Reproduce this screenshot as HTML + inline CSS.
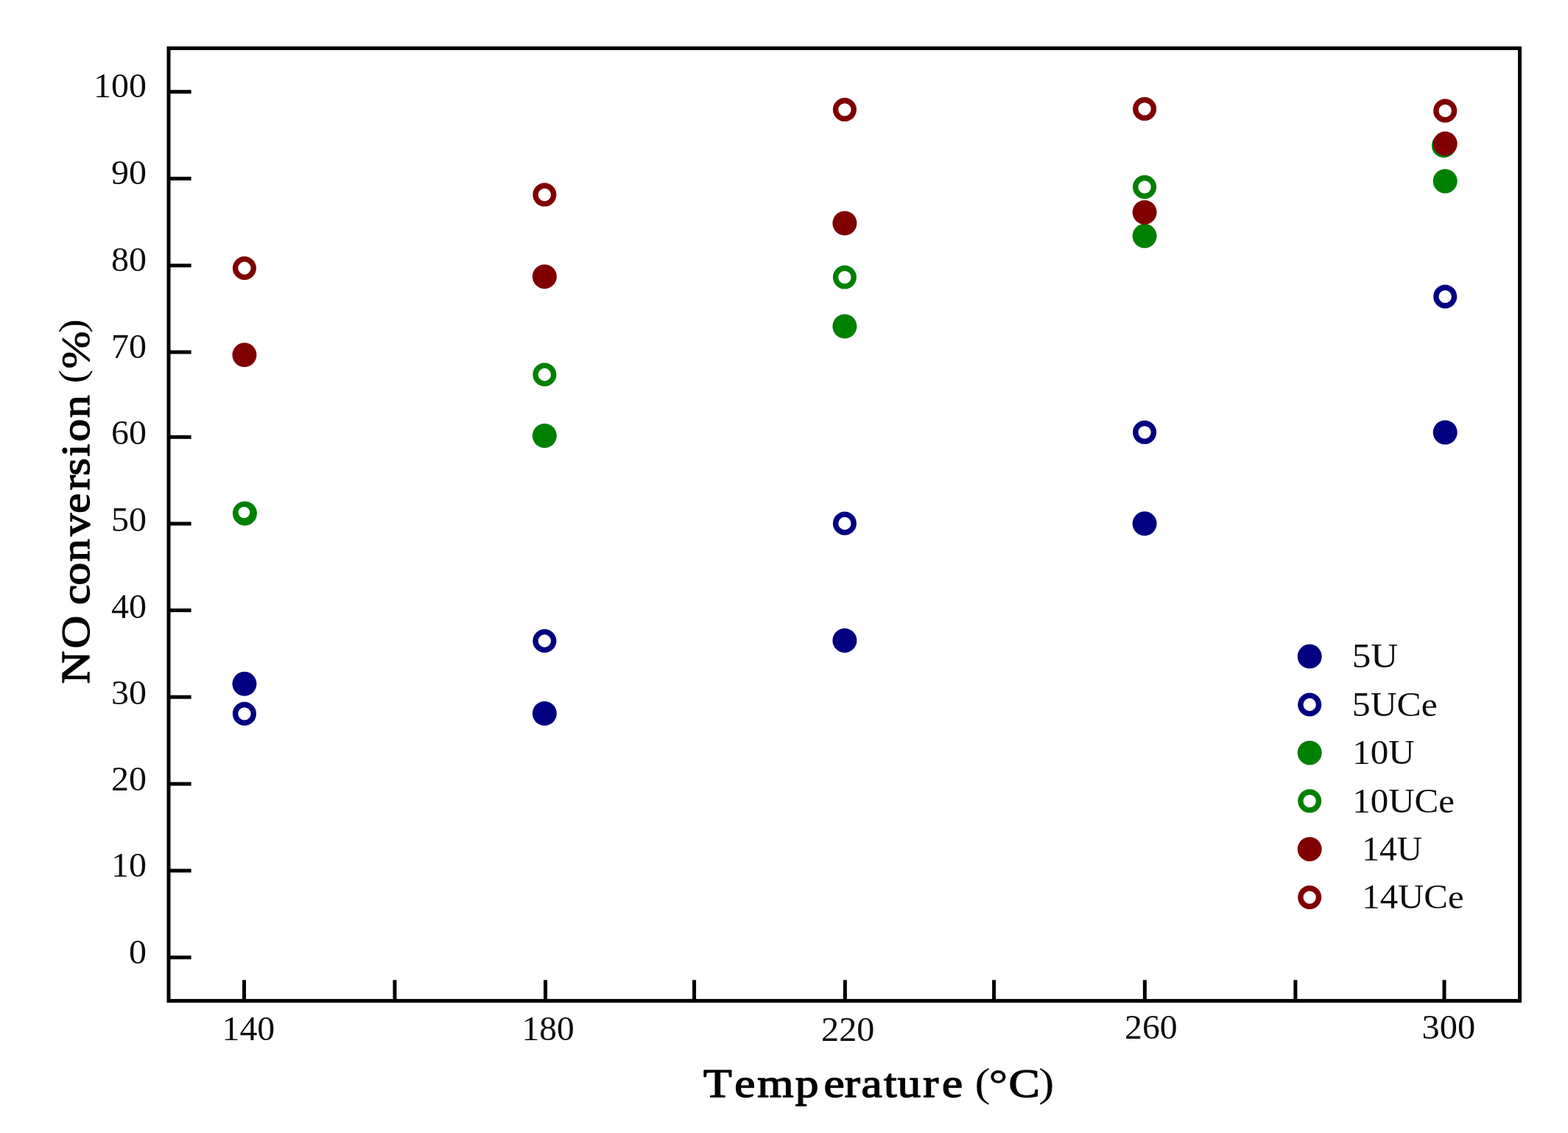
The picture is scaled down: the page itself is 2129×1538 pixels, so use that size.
<!DOCTYPE html>
<html lang="en"><head><meta charset="utf-8"><title>NO conversion vs Temperature</title>
<style>
html,body{margin:0;padding:0;background:#fff;}
body{width:2129px;height:1538px;overflow:hidden;}
svg{display:block;}
text{font-family:"Liberation Serif","DejaVu Serif",serif;}
.tk{font-size:46.0px;fill:#0d0d0d;stroke:none;}
.ti{font-size:55.2px;font-weight:normal;fill:#000;stroke:#000;stroke-width:1.4px;stroke-linejoin:round;}
.pa{font-size:55.0px;font-weight:normal;fill:#000;stroke:none;}
.pb{font-size:55.2px;font-weight:normal;fill:#000;stroke:#000;stroke-width:0.8px;}
.py{font-size:50.0px;font-weight:normal;fill:#000;stroke:none;}
.ax{stroke:#000;stroke-width:5;fill:none;}
</style></head><body>
<svg width="2129" height="1538" viewBox="0 0 2129 1538">
<rect x="0" y="0" width="2129" height="1538" fill="#fff"/>
<rect class="ax" x="229.0" y="65.5" width="1834.5" height="1293.1"/>
<g class="ax">
<line x1="229.0" y1="124.6" x2="259.6" y2="124.6"/>
<line x1="229.0" y1="242.4" x2="259.6" y2="242.4"/>
<line x1="229.0" y1="360.4" x2="259.6" y2="360.4"/>
<line x1="229.0" y1="478.0" x2="259.6" y2="478.0"/>
<line x1="229.0" y1="593.3" x2="259.6" y2="593.3"/>
<line x1="229.0" y1="710.9" x2="259.6" y2="710.9"/>
<line x1="229.0" y1="828.5" x2="259.6" y2="828.5"/>
<line x1="229.0" y1="946.2" x2="259.6" y2="946.2"/>
<line x1="229.0" y1="1064.1" x2="259.6" y2="1064.1"/>
<line x1="229.0" y1="1181.9" x2="259.6" y2="1181.9"/>
<line x1="229.0" y1="1299.7" x2="259.6" y2="1299.7"/>
<line x1="331.5" y1="1330.3" x2="331.5" y2="1358.6"/>
<line x1="536.0" y1="1330.3" x2="536.0" y2="1358.6"/>
<line x1="740.6" y1="1330.3" x2="740.6" y2="1358.6"/>
<line x1="942.6" y1="1330.3" x2="942.6" y2="1358.6"/>
<line x1="1147.4" y1="1330.3" x2="1147.4" y2="1358.6"/>
<line x1="1349.6" y1="1330.3" x2="1349.6" y2="1358.6"/>
<line x1="1554.4" y1="1330.3" x2="1554.4" y2="1358.6"/>
<line x1="1758.9" y1="1330.3" x2="1758.9" y2="1358.6"/>
<line x1="1961.0" y1="1330.3" x2="1961.0" y2="1358.6"/>
</g>
<g class="tk">
<text x="127.13" y="132.3" textLength="71.97" lengthAdjust="spacingAndGlyphs">100</text>
<text x="151.12" y="250.3" textLength="47.98" lengthAdjust="spacingAndGlyphs">90</text>
<text x="151.12" y="368.2" textLength="47.98" lengthAdjust="spacingAndGlyphs">80</text>
<text x="151.12" y="485.8" textLength="47.98" lengthAdjust="spacingAndGlyphs">70</text>
<text x="151.12" y="603.3" textLength="47.98" lengthAdjust="spacingAndGlyphs">60</text>
<text x="151.12" y="721.2" textLength="47.98" lengthAdjust="spacingAndGlyphs">50</text>
<text x="151.12" y="839.0" textLength="47.98" lengthAdjust="spacingAndGlyphs">40</text>
<text x="151.12" y="956.2" textLength="47.98" lengthAdjust="spacingAndGlyphs">30</text>
<text x="151.12" y="1073.2" textLength="47.98" lengthAdjust="spacingAndGlyphs">20</text>
<text x="151.12" y="1190.0" textLength="47.98" lengthAdjust="spacingAndGlyphs">10</text>
<text x="175.11" y="1307.5" textLength="23.99" lengthAdjust="spacingAndGlyphs">0</text>
<text x="301.57" y="1412.4" textLength="71.62" lengthAdjust="spacingAndGlyphs">140</text>
<text x="708.59" y="1412.4" textLength="71.19" lengthAdjust="spacingAndGlyphs">180</text>
<text x="1115.09" y="1412.7" textLength="72.31" lengthAdjust="spacingAndGlyphs">220</text>
<text x="1527.00" y="1410.3" textLength="71.79" lengthAdjust="spacingAndGlyphs">260</text>
<text x="1930.53" y="1410.3" textLength="72.58" lengthAdjust="spacingAndGlyphs">300</text>
</g>
<text class="ti" transform="scale(1.1509,1)"><tspan x="829.77 866.58 893.37 938.14 971.89 996.33 1016.17 1042.76 1058.66 1089.04 1111.22 1126.22" y="1488.7">Temperature </tspan><tspan class="pa" x="1150.08" y="1488.2">(</tspan><tspan class="pb" x="1166.61" y="1489.7">°</tspan><tspan x="1189.99" y="1488.7">C</tspan><tspan class="pa" x="1225.32" y="1488.2">)</tspan></text>
<text class="ti" transform="translate(120.7,928.2) rotate(-90) scale(1.1185,1)"><tspan x="-0.04 42.92 69.43 95.94 119.50 148.12 179.31 206.66 234.94 252.64 275.69 293.88 322.72 337.72" y="0.0">NO conversion </tspan><tspan class="py" x="364.57" y="-5.5">(</tspan><tspan class="pb" x="382.15" y="0.0">%</tspan><tspan class="py" x="425.71" y="-5.5">)</tspan></text>
<g>
<circle cx="331.9" cy="928.3" r="16.50" fill="#000080"/>
<circle cx="739.4" cy="968.5" r="16.50" fill="#000080"/>
<circle cx="1146.9" cy="869.4" r="16.50" fill="#000080"/>
<circle cx="1554.1" cy="710.8" r="16.50" fill="#000080"/>
<circle cx="1962.2" cy="587.0" r="16.50" fill="#000080"/>
<circle cx="331.9" cy="968.9" r="12.35" fill="#fff" stroke="#000080" stroke-width="7.4"/>
<circle cx="739.4" cy="870.0" r="12.35" fill="#fff" stroke="#000080" stroke-width="7.4"/>
<circle cx="1146.9" cy="710.5" r="12.35" fill="#fff" stroke="#000080" stroke-width="7.4"/>
<circle cx="1554.1" cy="586.8" r="12.35" fill="#fff" stroke="#000080" stroke-width="7.4"/>
<circle cx="1962.2" cy="402.6" r="12.35" fill="#fff" stroke="#000080" stroke-width="7.4"/>
<circle cx="739.4" cy="591.5" r="16.50" fill="#008000"/>
<circle cx="1146.9" cy="443.0" r="16.50" fill="#008000"/>
<circle cx="1554.1" cy="320.3" r="16.50" fill="#008000"/>
<circle cx="1962.2" cy="245.9" r="16.50" fill="#008000"/>
<circle cx="332.4" cy="696.9" r="16.50" fill="#008000"/>
<ellipse cx="331.4" cy="695.6" rx="7.9" ry="7.6" fill="#fff"/>
<circle cx="739.4" cy="508.5" r="12.35" fill="#fff" stroke="#008000" stroke-width="7.4"/>
<circle cx="1146.9" cy="376.3" r="12.35" fill="#fff" stroke="#008000" stroke-width="7.4"/>
<circle cx="1554.1" cy="253.9" r="12.35" fill="#fff" stroke="#008000" stroke-width="7.4"/>
<circle cx="1960.4" cy="197.6" r="16.50" fill="#008000"/>
<circle cx="331.9" cy="481.8" r="16.50" fill="#800000"/>
<circle cx="739.4" cy="375.4" r="16.50" fill="#800000"/>
<circle cx="1146.9" cy="303.0" r="16.50" fill="#800000"/>
<circle cx="1554.1" cy="288.2" r="16.50" fill="#800000"/>
<circle cx="1962.2" cy="195.1" r="16.50" fill="#800000"/>
<circle cx="331.9" cy="364.0" r="12.35" fill="#fff" stroke="#800000" stroke-width="7.4"/>
<circle cx="739.4" cy="264.3" r="12.35" fill="#fff" stroke="#800000" stroke-width="7.4"/>
<circle cx="1146.9" cy="148.8" r="12.35" fill="#fff" stroke="#800000" stroke-width="7.4"/>
<circle cx="1554.1" cy="147.8" r="12.35" fill="#fff" stroke="#800000" stroke-width="7.4"/>
<circle cx="1962.2" cy="150.4" r="12.35" fill="#fff" stroke="#800000" stroke-width="7.4"/>
</g>
<g>
<circle cx="1778.2" cy="891.1" r="16.50" fill="#000080"/>
<circle cx="1778.2" cy="956.5" r="12.35" fill="#fff" stroke="#000080" stroke-width="7.4"/>
<circle cx="1778.2" cy="1021.9" r="16.50" fill="#008000"/>
<circle cx="1778.2" cy="1087.3" r="12.35" fill="#fff" stroke="#008000" stroke-width="7.4"/>
<circle cx="1778.2" cy="1152.7" r="16.50" fill="#800000"/>
<circle cx="1778.2" cy="1218.1" r="12.35" fill="#fff" stroke="#800000" stroke-width="7.4"/>
</g>
<g class="tk">
<text x="1835.70" y="906.3" textLength="62.58" lengthAdjust="spacingAndGlyphs">5U</text>
<text x="1835.77" y="971.7" textLength="116.13" lengthAdjust="spacingAndGlyphs">5UCe</text>
<text x="1836.16" y="1037.1" textLength="84.57" lengthAdjust="spacingAndGlyphs">10U</text>
<text x="1836.17" y="1102.5" textLength="138.80" lengthAdjust="spacingAndGlyphs">10UCe</text>
<text x="1849.39" y="1167.9" textLength="81.71" lengthAdjust="spacingAndGlyphs">14U</text>
<text x="1849.29" y="1233.3" textLength="138.29" lengthAdjust="spacingAndGlyphs">14UCe</text>
</g>
</svg>
</body></html>
